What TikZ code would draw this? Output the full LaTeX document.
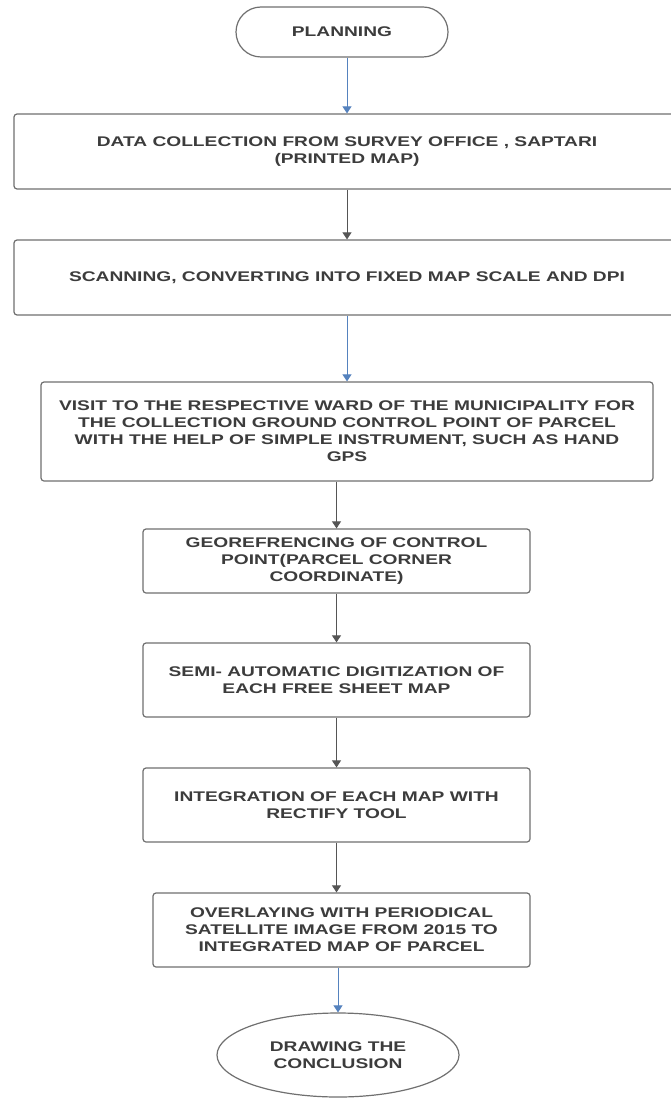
\documentclass[tikz,border=0pt]{standalone}
\usepackage{fontspec}
\setmainfont{Liberation Sans}[FakeStretch=1.37]
\usetikzlibrary{arrows.meta,shapes.geometric}
\definecolor{txt}{HTML}{3C3C3C}
\definecolor{edgegray}{HTML}{707070}
\definecolor{flowblue}{HTML}{5582BE}
\definecolor{flowgray}{HTML}{555555}
\begin{document}
\begin{tikzpicture}[x=1pt,y=-1pt,
  boxtext/.style={align=center, text=txt, font=\fontsize{14}{17}\selectfont\bfseries},
  stepbox/.style={boxtext, draw=edgegray, line width=1.2pt, rounded corners=3pt, fill=white, inner sep=0pt},
  terminal/.style={boxtext, draw=edgegray, line width=1.2pt, fill=white, inner sep=0pt},
  bluearrow/.style={draw=flowblue, line width=1pt, -{Triangle[width=9pt,length=7pt]}},
  grayarrow/.style={draw=flowgray, line width=0.9pt, -{Triangle[width=9pt,length=7pt]}}
]
\useasboundingbox (0,0) rectangle (671,1099);
\fill[white] (0,0) rectangle (671,1099);
\clip (0,0) rectangle (671,1099);

\node[terminal, rounded corners=25pt, minimum width=212pt, minimum height=50pt] (plan) at (342,32) {PLANNING};
\node[stepbox, minimum width=666pt, minimum height=75pt] (b1) at (347,151.5) {DATA COLLECTION FROM SURVEY OFFICE , SAPTARI\\(PRINTED MAP)};
\node[stepbox, minimum width=666pt, minimum height=75pt] (b2) at (347,277.5) {SCANNING, CONVERTING INTO FIXED MAP SCALE AND DPI};
\node[stepbox, minimum width=612pt, minimum height=99pt] (b3) at (347,431.5) {VISIT TO THE RESPECTIVE WARD OF THE MUNICIPALITY FOR\\THE COLLECTION GROUND CONTROL POINT OF PARCEL\\WITH THE HELP OF SIMPLE INSTRUMENT, SUCH AS HAND\\GPS};
\node[stepbox, minimum width=387pt, minimum height=64pt] (b4) at (336.5,561) {GEOREFRENCING OF CONTROL\\POINT(PARCEL CORNER\\COORDINATE)};
\node[stepbox, minimum width=387pt, minimum height=74pt] (b5) at (336.5,680) {SEMI- AUTOMATIC DIGITIZATION OF\\EACH FREE SHEET MAP};
\node[stepbox, minimum width=387pt, minimum height=74pt] (b6) at (336.5,805) {INTEGRATION OF EACH MAP WITH\\RECTIFY TOOL};
\node[stepbox, minimum width=377pt, minimum height=74pt] (b7) at (341.5,930) {OVERLAYING WITH PERIODICAL\\SATELLITE IMAGE FROM 2015 TO\\INTEGRATED MAP OF PARCEL};
\node[terminal, ellipse, minimum width=242pt, minimum height=84pt] (end) at (338,1055) {DRAWING THE\\CONCLUSION};

\draw[bluearrow] (plan.south -| b1.north) -- (b1.north);
\draw[grayarrow] (b1.south) -- (b2.north);
\draw[bluearrow] (b2.south) -- (b3.north);
\draw[grayarrow] (b3.south -| b4.north) -- (b4.north);
\draw[grayarrow] (b4.south) -- (b5.north);
\draw[grayarrow] (b5.south) -- (b6.north);
\draw[grayarrow] (b6.south) -- (b6.south |- b7.north);
\draw[bluearrow] (end.north |- b7.south) -- (end.north);
\end{tikzpicture}
\end{document}
